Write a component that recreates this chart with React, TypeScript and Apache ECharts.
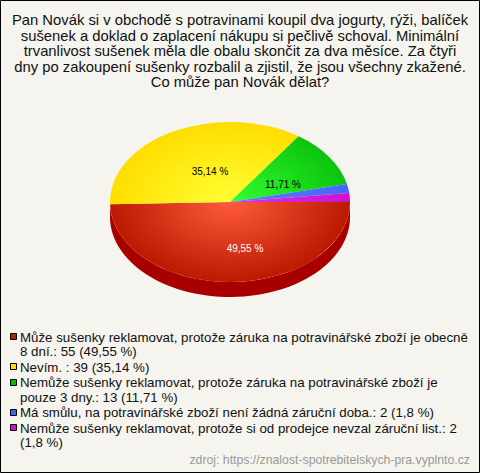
import React, { useEffect, useRef } from "react";
import * as echarts from "echarts";

const titleLines = [
  "Pan Novák si v obchodě s potravinami koupil dva jogurty, rýži, balíček",
  "sušenek a doklad o zaplacení nákupu si pečlivě schoval. Minimální",
  "trvanlivost sušenek měla dle obalu skončit za dva měsíce. Za čtyři",
  "dny po zakoupení sušenky rozbalil a zjistil, že jsou všechny zkažené.",
  "Co může pan Novák dělat?",
];
const counts = [55, 39, 13, 2, 2];
const pctLabels = ["49,55 %", "35,14 %", "11,71 %", "", ""];
const innerColors = ["#ff5a3c", "#ffff33", "#33ff33", "#5c7cff", "#e030e8"];
const outerColors = ["#bb1a00", "#ffdd00", "#0cc40c", "#4466ff", "#cc11cc"];
const labelColors = ["#ffffff", "#000000", "#000000", "#000000", "#000000"];
const legendColors = ["#c02000", "#ffdd00", "#00c000", "#4466ee", "#cc11cc"];
const legendLines = [
  ["Může sušenky reklamovat, protože záruka na potravinářské zboží je obecně", "8 dní.: 55 (49,55 %)"],
  ["Nevím. : 39 (35,14 %)"],
  ["Nemůže sušenky reklamovat, protože záruka na potravinářské zboží je", "pouze 3 dny.: 13 (11,71 %)"],
  ["Má smůlu, na potravinářské zboží není žádná záruční doba.: 2 (1,8 %)"],
  ["Nemůže sušenky reklamovat, protože si od prodejce nevzal záruční list.: 2", "(1,8 %)"],
];
const sourceText = "zdroj: https://znalost-spotrebitelskych-pra.vyplnto.cz";

const FONT = "'Liberation Sans', Arial, sans-serif";
const CX = 230, CY = 202, RX = 120, RY = 80, DEPTH = 15;
const LABEL_OFFSETS = [[15, 46], [-20, -31], [53, -18], [0, 0], [0, 0]];

export default function App() {
  const ref = useRef<HTMLDivElement>(null);
  useEffect(() => {
    const chart = echarts.init(ref.current!, undefined, { renderer: "svg" });
    const total = counts.reduce((a, b) => a + b, 0);
    const starts: number[] = [];
    let acc = 0;
    counts.forEach((v) => {
      starts.push((acc / total) * Math.PI * 2);
      acc += v;
    });
    const sweep = (i: number) => (counts[i] / total) * Math.PI * 2;

    const graphics: any[] = [];
    graphics.push({
      type: "rect",
      shape: { x: 0.5, y: 0.5, width: 479, height: 472 },
      style: { fill: "#f5f4ee", stroke: "#000", lineWidth: 1 },
      silent: true,
      z: 0,
    });
    titleLines.forEach((t, i) => {
      graphics.push({
        type: "text",
        x: 240,
        y: 20 + i * 15.6,
        z: 1,
        style: { text: t, fill: "#111", font: `14.8px ${FONT}`, textAlign: "center", textVerticalAlign: "middle" },
      });
    });
    let ly = 337;
    legendLines.forEach((lines, i) => {
      graphics.push({
        type: "rect",
        shape: { x: 10.5, y: Math.round(ly) - 3.5, width: 6, height: 6 },
        style: { fill: legendColors[i], stroke: "#000", lineWidth: 1 },
        z: 1,
      });
      lines.forEach((t, j) => {
        graphics.push({
          type: "text",
          x: 20,
          y: ly + j * 14.5,
          z: 1,
          style: { text: t, fill: "#111", font: `13.3px ${FONT}`, textVerticalAlign: "middle" },
        });
      });
      ly += lines.length * 14.5 + 1;
    });
    graphics.push({
      type: "text",
      x: 470,
      y: 460,
      z: 1,
      style: { text: sourceText, fill: "#999", font: `12.26px ${FONT}`, textAlign: "right", textVerticalAlign: "middle" },
    });

    chart.setOption({
      animation: false,
      backgroundColor: "#f5f4ee",
      graphic: graphics,
      xAxis: { show: false, min: 0, max: 480, type: "value" },
      yAxis: { show: false, min: 0, max: 473, type: "value", inverse: true },
      grid: { left: 0, right: 0, top: 0, bottom: 0 },
      series: [
        {
          type: "custom",
          coordinateSystem: "none",
          silent: true,
          z: 5,
          data: counts.map((v, i) => [i, v]),
          renderItem: (params: any) => {
            const i = params.dataIndex;
            const a0 = starts[i];
            const a1 = a0 + sweep(i);
            const children: any[] = [];
            if (i === 0) {
              const steps = 60;
              const pts: number[][] = [];
              for (let s = 0; s <= steps; s++) {
                const a = a0 + ((a1 - a0) * s) / steps;
                pts.push([CX + RX * Math.cos(a), CY + RY * Math.sin(a)]);
              }
              for (let s = steps; s >= 0; s--) {
                const a = a0 + ((a1 - a0) * s) / steps;
                pts.push([CX + RX * Math.cos(a), CY + DEPTH + RY * Math.sin(a)]);
              }
              children.push({ type: "polygon", shape: { points: pts }, style: { fill: "#a80000" } });
            }
            children.push({
              type: "sector",
              x: CX,
              y: CY,
              scaleY: RY / RX,
              shape: { cx: 0, cy: 0, r0: 0, r: RX, startAngle: a0, endAngle: a1, clockwise: true },
              style: {
                fill: new echarts.graphic.RadialGradient(0, 0, RX, [
                  { offset: 0, color: innerColors[i] },
                  { offset: 1, color: outerColors[i] },
                ], true),
              },
            });
            if (pctLabels[i]) {
              children.push({
                type: "text",
                x: CX + LABEL_OFFSETS[i][0],
                y: CY + LABEL_OFFSETS[i][1],
                z2: 10,
                style: {
                  text: pctLabels[i],
                  fill: labelColors[i],
                  font: `10px ${FONT}`,
                  textAlign: "center",
                  textVerticalAlign: "middle",
                },
              });
            }
            return { type: "group", children };
          },
        },
      ],
    });
    return () => chart.dispose();
  }, []);
  return (
    <div
      ref={ref}
      style={{ position: "absolute", left: 0, top: 0, width: 480, height: 473 }}
    />
  );
}
